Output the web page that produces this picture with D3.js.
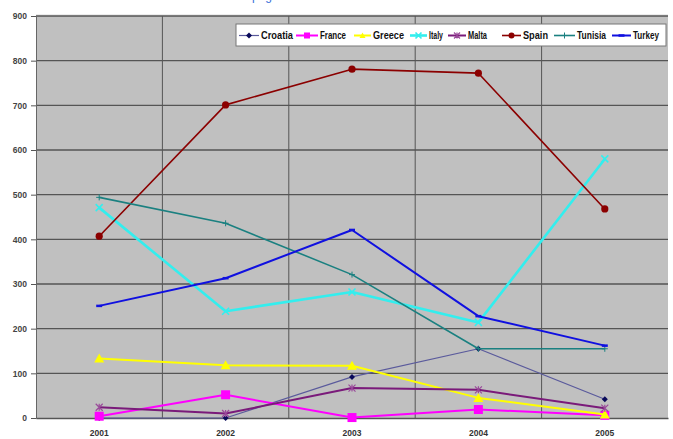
<!DOCTYPE html>
<html>
<head>
<meta charset="utf-8">
<script src="https://cdn.jsdelivr.net/npm/d3@7"></script>
<style>
  html, body { margin: 0; padding: 0; background: #ffffff; }
  svg { display: block; }
</style>
</head>
<body>
<svg id="chart" width="673" height="439"></svg>
<script>
// Arrivals by country, 2001–2005
const years = ["2001", "2002", "2003", "2004", "2005"];
const yTicks = [0, 100, 200, 300, 400, 500, 600, 700, 800, 900];

const croatia = [0, 0, 92, 155, 42];
const france  = [4, 52, 1, 19, 6];
const greece  = [133, 118, 117, 45, 8];
const italy   = [471, 239, 282, 214, 580];
const malta   = [24, 10, 67, 63, 22];
const spain   = [407, 701, 781, 772, 468];
const tunisia = [494, 436, 321, 155, 155];
const turkey  = [251, 313, 421, 228, 162];

const seriesNames = ["Croatia", "France", "Greece", "Italy", "Malta", "Spain", "Tunisia", "Turkey"];
const seriesValues = [croatia, france, greece, italy, malta, spain, tunisia, turkey];

const styles = {
  Croatia: { line: "#5a5a9c", marker: "#0a0a5a", width: 1.2, shape: "diamond", size: 3 },
  France:  { line: "#ff00ff", marker: "#ff00ff", width: 2, shape: "square", size: 4.5 },
  Greece:  { line: "#ffff00", marker: "#ffff00", width: 2, shape: "triangle", size: 5 },
  Italy:   { line: "#33eeee", marker: "#33eeee", width: 2.6, shape: "x", size: 3.5 },
  Malta:   { line: "#7a1a7a", marker: "#9a4a9a", width: 2, shape: "star", size: 3.5 },
  Spain:   { line: "#8b0000", marker: "#8b0000", width: 1.6, shape: "circle", size: 3.6 },
  Tunisia: { line: "#1a8080", marker: "#1a8080", width: 1.6, shape: "plus", size: 3 },
  Turkey:  { line: "#1010e0", marker: "#1010e0", width: 2, shape: "dash", size: 3 }
};

const svg = d3.select("#chart");
const plot = { left: 36, right: 668, top: 16, bottom: 418 };

const x = d3.scaleBand().domain(years).range([plot.left, plot.right]).padding(0);
const y = d3.scaleLinear().domain([0, 900]).range([plot.bottom, plot.top]);
const cx = d => x(d) + x.bandwidth() / 2;

// page header text, mostly above the top edge
svg.append("text").attr("x", 252).attr("y", -0.5)
  .attr("font-family", "Liberation Sans, Arial, sans-serif").attr("font-size", 12)
  .attr("fill", "#3a6fd8").text("page");

// plot background
svg.append("rect")
  .attr("x", plot.left).attr("y", plot.top)
  .attr("width", plot.right - plot.left).attr("height", plot.bottom - plot.top)
  .attr("fill", "#c0c0c0");

// faint top border
svg.append("line").attr("x1", plot.left).attr("x2", plot.right)
  .attr("y1", plot.top - 1).attr("y2", plot.top - 1)
  .attr("stroke", "#d8d8d8").attr("stroke-width", 1);

// horizontal gridlines
svg.append("g").selectAll("line").data(yTicks.filter(t => t > 0)).join("line")
  .attr("x1", plot.left).attr("x2", plot.right)
  .attr("y1", d => y(d)).attr("y2", d => y(d))
  .attr("stroke", "#555555").attr("stroke-width", 1.4);

// vertical gridlines at category boundaries
svg.append("g").selectAll("line").data(years.slice(1)).join("line")
  .attr("x1", d => x(d)).attr("x2", d => x(d))
  .attr("y1", plot.top).attr("y2", plot.bottom)
  .attr("stroke", "#555555").attr("stroke-width", 1);

// y axis
const yAxis = d3.axisLeft(y).tickValues(yTicks).tickSize(5).tickPadding(4);
const gy = svg.append("g").attr("transform", `translate(${plot.left},0)`).call(yAxis);
gy.select(".domain").attr("stroke", "#666666");
gy.selectAll(".tick line").attr("stroke", "#555555");
gy.selectAll(".tick text")
  .attr("font-family", "Liberation Sans, Arial, sans-serif")
  .attr("font-weight", "bold").attr("font-size", 8.5).attr("fill", "#444444");

// x axis
const xAxis = d3.axisBottom(x).tickSize(0).tickPadding(12);
const gx = svg.append("g").attr("transform", `translate(0,${plot.bottom})`).call(xAxis);
gx.select(".domain").attr("stroke", "#555555").attr("stroke-width", 1.5);
gx.selectAll(".tick text")
  .attr("font-family", "Liberation Sans, Arial, sans-serif")
  .attr("font-weight", "bold").attr("font-size", 8.5).attr("fill", "#333333");

// marker drawing
function marker(sel, st) {
  const s = st.size;
  if (st.shape === "circle") {
    sel.append("circle").attr("r", s).attr("fill", st.marker);
  } else if (st.shape === "square") {
    sel.append("rect").attr("x", -s).attr("y", -s).attr("width", 2 * s).attr("height", 2 * s).attr("fill", st.marker);
  } else if (st.shape === "triangle") {
    sel.append("path").attr("d", `M0,${-s} L${s},${s * 0.8} L${-s},${s * 0.8} Z`).attr("fill", st.marker);
  } else if (st.shape === "diamond") {
    sel.append("path").attr("d", `M0,${-s} L${s},0 L0,${s} L${-s},0 Z`).attr("fill", st.marker);
  } else if (st.shape === "x") {
    sel.append("path").attr("d", `M${-s},${-s} L${s},${s} M${-s},${s} L${s},${-s}`)
      .attr("stroke", st.marker).attr("stroke-width", 1.6);
  } else if (st.shape === "star") {
    sel.append("path").attr("d", `M${-s},${-s} L${s},${s} M${-s},${s} L${s},${-s} M0,${-s} L0,${s}`)
      .attr("stroke", st.marker).attr("stroke-width", 1.2);
  } else if (st.shape === "plus") {
    sel.append("path").attr("d", `M${-s},0 L${s},0 M0,${-s} L0,${s}`)
      .attr("stroke", st.marker).attr("stroke-width", 1);
  } else if (st.shape === "dash") {
    sel.append("path").attr("d", `M${-s},0 L${s},0`)
      .attr("stroke", st.marker).attr("stroke-width", 2.5);
  }
}

const line = d3.line().x(d => cx(d.year)).y(d => y(d.value));

seriesNames.forEach((name, i) => {
  const st = styles[name];
  const pts = years.map((yr, j) => ({ year: yr, value: seriesValues[i][j] }));
  const g = svg.append("g").attr("class", "series");
  g.append("path").datum(pts).attr("d", line)
    .attr("fill", "none").attr("stroke", st.line).attr("stroke-width", st.width)
    .attr("stroke-linejoin", "round");
  g.selectAll("g.pt").data(pts).join("g").attr("class", "pt")
    .attr("transform", d => `translate(${cx(d.year)},${y(d.value)})`)
    .each(function () { marker(d3.select(this), st); });
});

// legend (condensed labels)
const legend = svg.append("g");
legend.append("rect").attr("x", 236).attr("y", 24).attr("width", 430).attr("height", 22)
  .attr("fill", "#ffffff").attr("stroke", "#777777").attr("stroke-width", 1);
const legendX = [239, 296, 354, 410, 448, 502, 554, 612];
const sampleW = [20, 22, 17, 17, 18, 19, 21, 19];
const labelW = [32, 26, 31, 14, 19, 25, 29, 26];
seriesNames.forEach((name, i) => {
  const st = styles[name];
  const lx = legendX[i], ly = 35.5;
  const g = legend.append("g");
  g.append("line").attr("x1", lx).attr("x2", lx + sampleW[i]).attr("y1", ly).attr("y2", ly)
    .attr("stroke", st.line).attr("stroke-width", st.width);
  const m = g.append("g").attr("transform", `translate(${lx + sampleW[i] / 2},${ly})`);
  marker(m, Object.assign({}, st, { size: Math.min(st.size, 3) }));
  g.append("text").attr("x", lx + sampleW[i] + 2).attr("y", ly + 3.5)
    .attr("font-family", "Liberation Sans, Arial, sans-serif")
    .attr("font-weight", "bold").attr("font-size", 10).attr("fill", "#111111")
    .attr("textLength", labelW[i]).attr("lengthAdjust", "spacingAndGlyphs")
    .text(name);
});
</script>
</body>
</html>
